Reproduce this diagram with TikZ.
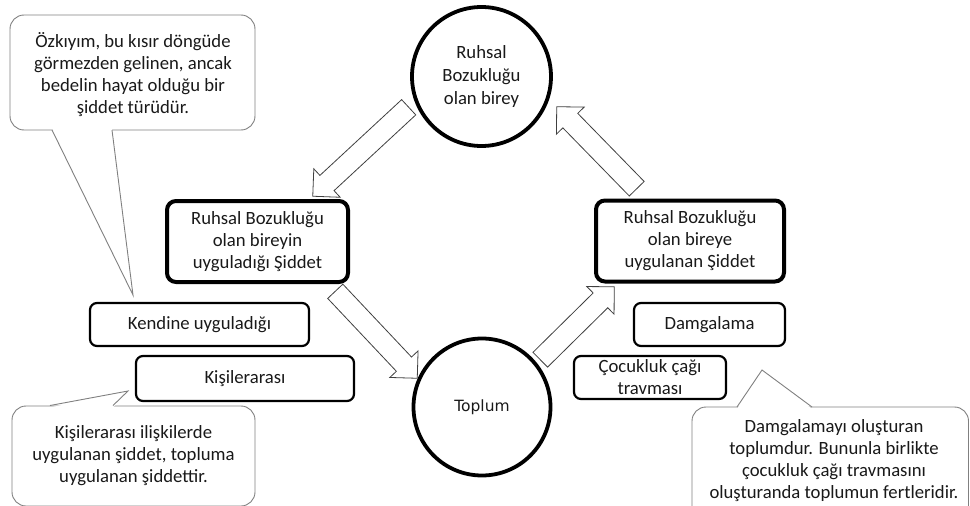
\documentclass[tikz,border=0pt]{standalone}
\usepackage{fontspec}
\setmainfont{Carlito}
\newfontfamily\dejavu{DejaVu Sans}
\usetikzlibrary{shapes.arrows,calc}
\begin{document}
\begin{tikzpicture}[x=1pt,y=-1pt,
  txt/.style={text=black!90, font=\fontsize{18.7}{22}\selectfont, align=center},
  thickbox/.style={draw, line width=4pt, rounded corners=9pt, txt, inner sep=0pt},
  smallbox/.style={draw, line width=2.2pt, rounded corners=7pt, txt, inner sep=0pt},
  circ/.style={draw, circle, line width=3.8pt, inner sep=0pt, txt},
  callout/.style={draw=black!50, line width=0.9pt, rounded corners=14pt, fill=white, txt, inner sep=0pt},
  tailfill/.style={fill=white},
  tailline/.style={draw=black!50, line width=0.9pt, line join=miter},
  blockarrow/.style={single arrow, draw=black!75, line width=0.8pt, fill=white,
     minimum width=38pt, single arrow head extend=9pt, inner xsep=0pt, inner ysep=10pt,
     single arrow tip angle=90, anchor=tail}
]
\useasboundingbox (0,0) rectangle (970,506);

% circles
\node[circ, minimum size=139pt, font=\fontsize{18.7}{23}\selectfont] (birey) at (481.5,76.5) {Ruhsal\\Bozukluğu\\olan birey};
\node[circ, minimum size=137pt, font=\dejavu\fontsize{15.5}{19}\selectfont] (toplum) at (482,407) {Toplum};

% main boxes
\node[thickbox, minimum width=181pt, minimum height=81pt] (left) at (257.5,241.5)
  {Ruhsal Bozukluğu\\olan bireyin\\uyguladığı Şiddet};
\node[thickbox, minimum width=188pt, minimum height=81pt] (right) at (690,241)
  {Ruhsal Bozukluğu\\olan bireye\\uygulanan Şiddet};

% small boxes
\node[smallbox, minimum width=219pt, minimum height=43pt] (kendine) at (199.5,324.5) {Kendine uyguladığı};
\node[smallbox, minimum width=218pt, minimum height=45pt] (kisiler) at (245,378.5) {Kişilerarası};
\node[smallbox, minimum width=151pt, minimum height=43pt] (damga) at (709.5,324.5) {Damgalama};
\node[smallbox, minimum width=152pt, minimum height=43pt] (cocuk) at (650,377.5) {Çocukluk çağı\\travması};

% block arrows
\coordinate (a1s) at (409,107);  \coordinate (a1e) at (313,196);
\coordinate (a2s) at (637,189);  \coordinate (a2e) at (557,107);
\coordinate (a3s) at (335,291);  \coordinate (a3e) at (417,378);
\coordinate (a4s) at (540,360);  \coordinate (a4e) at (614,287);
\foreach \s/\e/\nm in {a1s/a1e/arr1,a2s/a2e/arr2,a3s/a3e/arr3,a4s/a4e/arr4}{
  \path let \p1=(\s), \p2=(\e), \n1={atan2(\y2-\y1,\x2-\x1)}, \n2={veclen(\x2-\x1,\y2-\y1)} in
    node[blockarrow, minimum height=\n2, rotate=\n1] (\nm) at (\s) {};
}

% callout 1
\node[callout, minimum width=245pt, minimum height=115pt] (c1) at (132.5,72.5) {};
\node[txt] (c1t) at (133,75) {Özkıyım, bu kısır döngüde\\görmezden gelinen, ancak\\bedelin hayat olduğu bir\\şiddet türüdür.};
\coordinate (t1a) at (52,130); \coordinate (t1b) at (112,130); \coordinate (t1) at (133,295);
\fill[tailfill] ($(t1a)+(0,-2)$) -- (t1) -- ($(t1b)+(0,-2)$) -- cycle;
\draw[tailline] (t1a) -- (t1) -- (t1b);

% callout 2
\node[callout, minimum width=243pt, minimum height=100pt] (c2) at (133.5,456)
  {Kişilerarası ilişkilerde\\uygulanan şiddet, topluma\\uygulanan şiddettir.};
\coordinate (t2a) at (50,405.5); \coordinate (t2b) at (113,405.5); \coordinate (t2) at (128,391);
\fill[tailfill] ($(t2a)+(0,2)$) -- (t2) -- ($(t2b)+(0,2)$) -- cycle;
\draw[tailline] (t2a) -- (t2) -- (t2b);

% callout 3
\node[callout, minimum width=276.5pt, minimum height=113pt] (c3) at (830.25,463.5) {};
\node[txt] (c3t) at (834,461) {Damgalamayı oluşturan\\toplumdur. Bununla birlikte\\çocukluk çağı travmasını\\oluşturanda toplumun fertleridir.};
\coordinate (t3a) at (737,407); \coordinate (t3b) at (812,407); \coordinate (t3) at (762,370);
\fill[tailfill] ($(t3a)+(0,2)$) -- (t3) -- ($(t3b)+(0,2)$) -- cycle;
\draw[tailline] (t3a) -- (t3) -- (t3b);
\end{tikzpicture}
\end{document}
